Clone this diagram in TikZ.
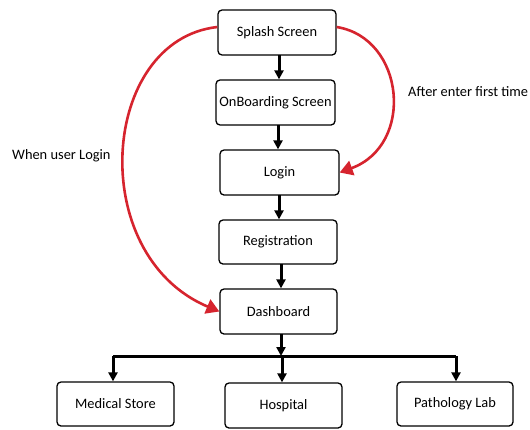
\documentclass[tikz,border=0pt]{standalone}
\usepackage{fontspec}
\setmainfont{Carlito}
\usetikzlibrary{arrows.meta,calc}
\definecolor{arrred}{RGB}{214,36,46}
\begin{document}
\begin{tikzpicture}[x=1pt,y=-1pt,
  box/.style={draw=black,line width=1.3pt,rounded corners=4pt,fill=white,
    minimum width=118pt,minimum height=45pt,inner sep=0pt,
    font=\fontsize{14.4}{17}\selectfont},
  lbl/.style={font=\fontsize{14.4}{17}\selectfont,inner sep=0pt,anchor=west},
  blk/.style={line width=3pt,-{Triangle[length=9pt,width=9pt]}},
  bus/.style={line width=3pt},
  redarr/.style={draw=arrred,line width=2.6pt,-{Triangle[length=13pt,width=15pt]}}]
\useasboundingbox (0,0) rectangle (530,429);
\node[box] (splash) at (277,32.5) {Splash Screen};
\node[box,minimum width=119pt] (onb) at (275.5,102.5) {OnBoarding Screen};
\node[box,minimum width=119pt] (login) at (279.5,172.5) {Login};
\node[box,minimum height=44pt] (reg) at (278,242) {Registration};
\node[box,minimum width=117pt] (dash) at (278.5,311.5) {Dashboard};
\node[box,minimum width=117pt,minimum height=44pt] (med) at (115.5,404) {Medical Store};
\node[box,minimum width=117pt] (hosp) at (283.5,405.5) {Hospital};
\node[box,minimum width=116pt,minimum height=44pt] (path) at (455,404) {Pathology Lab};
\node[lbl] (when) at (12,156) {When user Login};
\node[lbl] (after) at (408,92) {After enter first time};
% vertical arrows
\draw[blk] (279,55) coordinate (s1) -- (s1 |- onb.north);
\draw[blk] (278,125) coordinate (s2) -- (s2 |- login.north);
\draw[blk] (279,195) coordinate (s3) -- (s3 |- reg.north);
\draw[blk] (281,264) coordinate (s4) -- (s4 |- dash.north);
% bus
\coordinate (busL) at (113,356);
\coordinate (busR) at (456,356);
\draw[bus] (busL) -- (busR);
\draw[blk] (281,334) coordinate (s5) -- (s5 |- busL);
\draw[blk] (busL) -- (busL |- med.north);
\draw[blk] (282,356) coordinate (s6) -- (s6 |- hosp.north);
\draw[blk] (busR) -- (busR |- path.north);
% red curves
\draw[redarr] (splash.west |- 0,27) .. controls (100,40) and (85,255) .. (dash.west);
\draw[redarr] (splash.east |- 0,27) .. controls (405,38) and (415,145) .. (login.east);
\end{tikzpicture}
\end{document}
